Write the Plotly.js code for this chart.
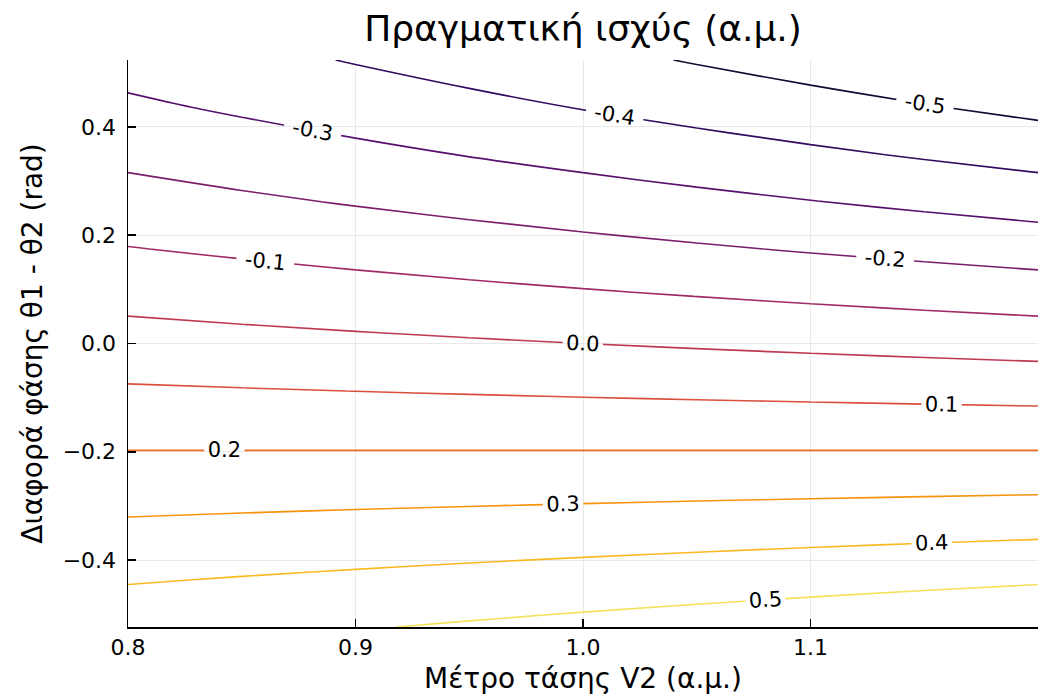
<!DOCTYPE html>
<html>
<head>
<meta charset="utf-8">
<script src="https://cdn.plot.ly/plotly-3.0.1.min.js"></script>
<style>html,body{margin:0;padding:0;background:#fff;}#chart{width:1053px;height:695px;}</style>
</head>
<body>
<div id="chart"></div>
<script>
// Voltage magnitude V2 (p.u.) — grid columns
const V2 = [0.80, 0.85, 0.90, 0.95, 1.00, 1.05, 1.10, 1.15, 1.20];
// Phase difference θ1 - θ2 (rad) — grid rows
const delta = [-0.5236, -0.4363, -0.3491, -0.2618, -0.1745, -0.0873, 0.0, 0.0873, 0.1745, 0.2618, 0.3491, 0.4363, 0.5236];

// Real power estimated on the grid, one row per phase difference
const P_m30 = [0.4614, 0.4778, 0.4941, 0.5105, 0.5268, 0.5431, 0.5595, 0.5758, 0.5921];
const P_m25 = [0.3931, 0.4052, 0.4172, 0.4293, 0.4414, 0.4534, 0.4655, 0.4776, 0.4896];
const P_m20 = [0.3233, 0.3310, 0.3387, 0.3464, 0.3541, 0.3618, 0.3695, 0.3772, 0.3849];
const P_m15 = [0.2525, 0.2558, 0.2591, 0.2623, 0.2656, 0.2689, 0.2722, 0.2755, 0.2788];
const P_m10 = [0.1814, 0.1802, 0.1790, 0.1779, 0.1767, 0.1755, 0.1744, 0.1732, 0.1720];
const P_m05 = [0.1103, 0.1047, 0.0991, 0.0935, 0.0879, 0.0823, 0.0767, 0.0711, 0.0655];
const P_000 = [0.0400, 0.0300, 0.0200, 0.0100, 0.0000, -0.0100, -0.0200, -0.0300, -0.0400];
const P_p05 = [-0.0291, -0.0434, -0.0578, -0.0721, -0.0864, -0.1007, -0.1150, -0.1294, -0.1437];
const P_p10 = [-0.0965, -0.1150, -0.1335, -0.1521, -0.1706, -0.1891, -0.2077, -0.2262, -0.2447];
const P_p15 = [-0.1616, -0.1842, -0.2068, -0.2294, -0.2520, -0.2746, -0.2972, -0.3198, -0.3424];
const P_p20 = [-0.2240, -0.2505, -0.2770, -0.3035, -0.3300, -0.3565, -0.3830, -0.4095, -0.4360];
const P_p25 = [-0.2831, -0.3133, -0.3435, -0.3737, -0.4039, -0.4341, -0.4643, -0.4945, -0.5247];
const P_p30 = [-0.3386, -0.3722, -0.4059, -0.4395, -0.4732, -0.5069, -0.5405, -0.5742, -0.6079];

// Contour levels and their line colours
const levels = [-0.5, -0.4, -0.3, -0.2, -0.1, 0.0, 0.1, 0.2, 0.3, 0.4, 0.5];
const levelColors = ['#120a32', '#330a5f', '#57106e', '#7b1d6c', '#a02a63', '#be3853',
                     '#da4e3d', '#ed6d24', '#f89310', '#fab922', '#f7e05c'];

// Tick labels
const xTicks = [0.8, 0.9, 1.0, 1.1];
const yTicks = [-0.4, -0.2, 0.0, 0.2, 0.4];

const zGrid = [P_m30, P_m25, P_m20, P_m15, P_m10, P_m05, P_000, P_p05, P_p10, P_p15, P_p20, P_p25, P_p30];
const lo = levels[0], hi = levels[levels.length - 1];
const colorscale = levels.map((l, i) => [(l - lo) / (hi - lo), levelColors[i]]);

const FONT = 'DejaVu Sans';

const trace = {
  type: 'contour',
  x: V2,
  y: delta,
  z: zGrid,
  zmin: lo,
  zmax: hi,
  zauto: false,
  colorscale: colorscale,
  showscale: false,
  contours: {
    start: lo, end: hi, size: 0.1,
    coloring: 'lines',
    showlabels: true,
    labelformat: '.1f',
    labelfont: {family: FONT, size: 21, color: '#000'}
  },
  line: {width: 1.6, smoothing: 1},
  hoverinfo: 'skip'
};

const layout = {
  width: 1053, height: 695,
  paper_bgcolor: '#fff', plot_bgcolor: '#fff',
  margin: {l: 128, r: 15, t: 60, b: 68},
  font: {family: FONT, color: '#000'},
  title: {
    text: 'Πραγματική ισχύς (α.μ.)',
    font: {family: FONT, size: 36, color: '#000'},
    x: 0.5, xref: 'paper', xanchor: 'center',
    y: 1 - 28 / 695, yref: 'container', yanchor: 'middle'
  },
  xaxis: {
    range: [0.8, 1.2],
    tickvals: xTicks,
    tickformat: '.1f',
    ticks: 'inside', ticklen: 8, tickwidth: 1.5, tickcolor: '#000',
    showline: true, linecolor: '#000', linewidth: 1.5,
    showgrid: true, gridcolor: '#e9e9e9', gridwidth: 1,
    zeroline: false, mirror: false,
    tickfont: {family: FONT, size: 22, color: '#000'},
    title: {text: 'Μέτρο τάσης V2 (α.μ.)', font: {family: FONT, size: 28, color: '#000'}, standoff: 10}
  },
  yaxis: {
    range: [-0.5236, 0.5236],
    tickvals: yTicks,
    tickformat: '.1f',
    ticks: 'inside', ticklen: 8, tickwidth: 1.5, tickcolor: '#000',
    ticklabelstandoff: 6,
    showline: true, linecolor: '#000', linewidth: 1.5,
    showgrid: true, gridcolor: '#e9e9e9', gridwidth: 1,
    zeroline: false, mirror: false,
    tickfont: {family: FONT, size: 22, color: '#000'},
    title: {text: 'Διαφορά φάσης θ1 - θ2 (rad)', font: {family: FONT, size: 28, color: '#000'}, standoff: 12}
  },
  showlegend: false
};

Plotly.newPlot('chart', [trace], layout, {displayModeBar: false, staticPlot: true}).then(function (gd) {
  // contour labels in the reference use a plain hyphen for negative levels
  gd.querySelectorAll('.contourlabels text').forEach(function (t) {
    t.textContent = t.textContent.replace('\u2212', '-');
  });
});
</script>
</body>
</html>
